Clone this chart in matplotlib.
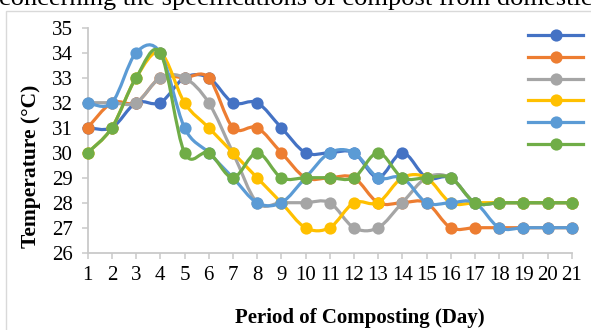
import matplotlib
matplotlib.use("Agg")
import matplotlib.pyplot as plt
from matplotlib.path import Path
from matplotlib.patches import PathPatch, Rectangle
from matplotlib.lines import Line2D

days = list(range(1, 22))
s1 = [31, 31, 32, 32, 33, 33, 32, 32, 31, 30, 30, 30, 29, 30, 29, 29, 28, 28, 28, 28, 28]
s2 = [31, 32, 32, 33, 33, 33, 31, 31, 30, 29, 29, 29, 28, 28, 28, 27, 27, 27, 27, 27, 27]
s3 = [32, 32, 32, 33, 33, 32, 30, 28, 28, 28, 28, 27, 27, 28, 29, 29, 28, 28, 28, 28, 28]
s4 = [30, 31, 33, 34, 32, 31, 30, 29, 28, 27, 27, 28, 28, 29, 29, 28, 28, 28, 28, 28, 28]
s5 = [32, 32, 34, 34, 31, 30, 29, 28, 28, 29, 30, 30, 29, 29, 28, 28, 28, 27, 27, 27, 27]
s6 = [30, 31, 33, 34, 30, 30, 29, 30, 29, 29, 29, 29, 30, 29, 29, 29, 28, 28, 28, 28, 28]
series = [s1, s2, s3, s4, s5, s6]
colors = ["#4472C4", "#ED7D31", "#A5A5A5", "#FFC000", "#5B9BD5", "#70AD47"]
yticks = list(range(26, 36))
xlabel = "Period of Composting (Day)"
ylabel = "Temperature (\u00b0C)"
toptext = "concerning the specifications of compost from domestic"

plt.rcParams["font.family"] = ["Liberation Serif", "DejaVu Serif"]

W, H = 591, 330
fig = plt.figure(figsize=(W / 100, H / 100), dpi=100)

# outer chart frame (partially visible)
fig.patches.append(Rectangle((6 / W, -0.2), 1.2, 1 - 11 / H + 0.2, transform=fig.transFigure,
                             fill=False, edgecolor="#D9D9D9", linewidth=1.0))
fig.text(-0.002, 1 - 5 / H, toptext, ha="left", va="baseline", fontsize=19)

x0, x1, y0, y1 = 87.7, 571.7, 27.7, 252.7
ax = fig.add_axes([x0 / W, 1 - y1 / H, (x1 - x0) / W, (y1 - y0) / H])
ax.set_xlim(1, 21)
ax.set_ylim(26, 35)


def smooth_path(xs, ys):
    pts = list(zip(xs, ys))
    n = len(pts)
    verts = [pts[0]]
    codes = [Path.MOVETO]
    for i in range(n - 1):
        p0 = pts[i - 1] if i > 0 else pts[i]
        p1 = pts[i]
        p2 = pts[i + 1]
        p3 = pts[i + 2] if i + 2 < n else pts[i + 1]
        c1 = (p1[0] + (p2[0] - p0[0]) / 6, p1[1] + (p2[1] - p0[1]) / 6)
        c2 = (p2[0] - (p3[0] - p1[0]) / 6, p2[1] - (p3[1] - p1[1]) / 6)
        verts += [c1, c2, p2]
        codes += [Path.CURVE4] * 3
    return Path(verts, codes)


lw = 2.3
ms = 8.8
handles = []
for k, (vals, c) in enumerate(zip(series, colors)):
    patch = PathPatch(smooth_path(days, vals), fill=False, edgecolor=c, linewidth=lw,
                      capstyle="round", joinstyle="round", zorder=3 + 2 * k, clip_on=False)
    ax.add_patch(patch)
    ax.plot(days, vals, linestyle="none", marker="o", markersize=ms, color=c,
            markeredgewidth=0, zorder=4 + 2 * k, clip_on=False)
    handles.append(Line2D([], [], color=c, linewidth=lw, marker="o", markersize=ms,
                          markeredgewidth=0))

leg = ax.legend(handles, [""] * 6, loc="upper left",
                bbox_to_anchor=(528 / W, 1 - 30 / H), bbox_transform=fig.transFigure,
                frameon=False, fontsize=10, handlelength=3.96, handletextpad=0,
                borderpad=0, borderaxespad=0, labelspacing=0.63, handleheight=0.7)

for side in ["top", "right"]:
    ax.spines[side].set_visible(False)
for side in ["left", "bottom"]:
    ax.spines[side].set_color("#C9C9C9")
    ax.spines[side].set_linewidth(1.3)

ax.set_xticks(days)
ax.set_xticklabels([str(d) for d in days])
ax.set_yticks(yticks)
ax.set_yticklabels([str(v) for v in yticks])
ax.tick_params(axis="both", direction="out", length=4.5, width=1.1, color="#C9C9C9",
               labelsize=15, labelcolor="black")
ax.tick_params(axis="y", pad=6)
ax.tick_params(axis="x", pad=5)

fig.text(360 / W, 1 - 318 / H, xlabel, ha="center", va="center", fontsize=15,
         fontweight="bold")
fig.text(31 / W, 1 - 166 / H, ylabel, ha="center", va="center", fontsize=15.5,
         fontweight="bold", rotation=90)

fig.savefig("out.png", dpi=100)
